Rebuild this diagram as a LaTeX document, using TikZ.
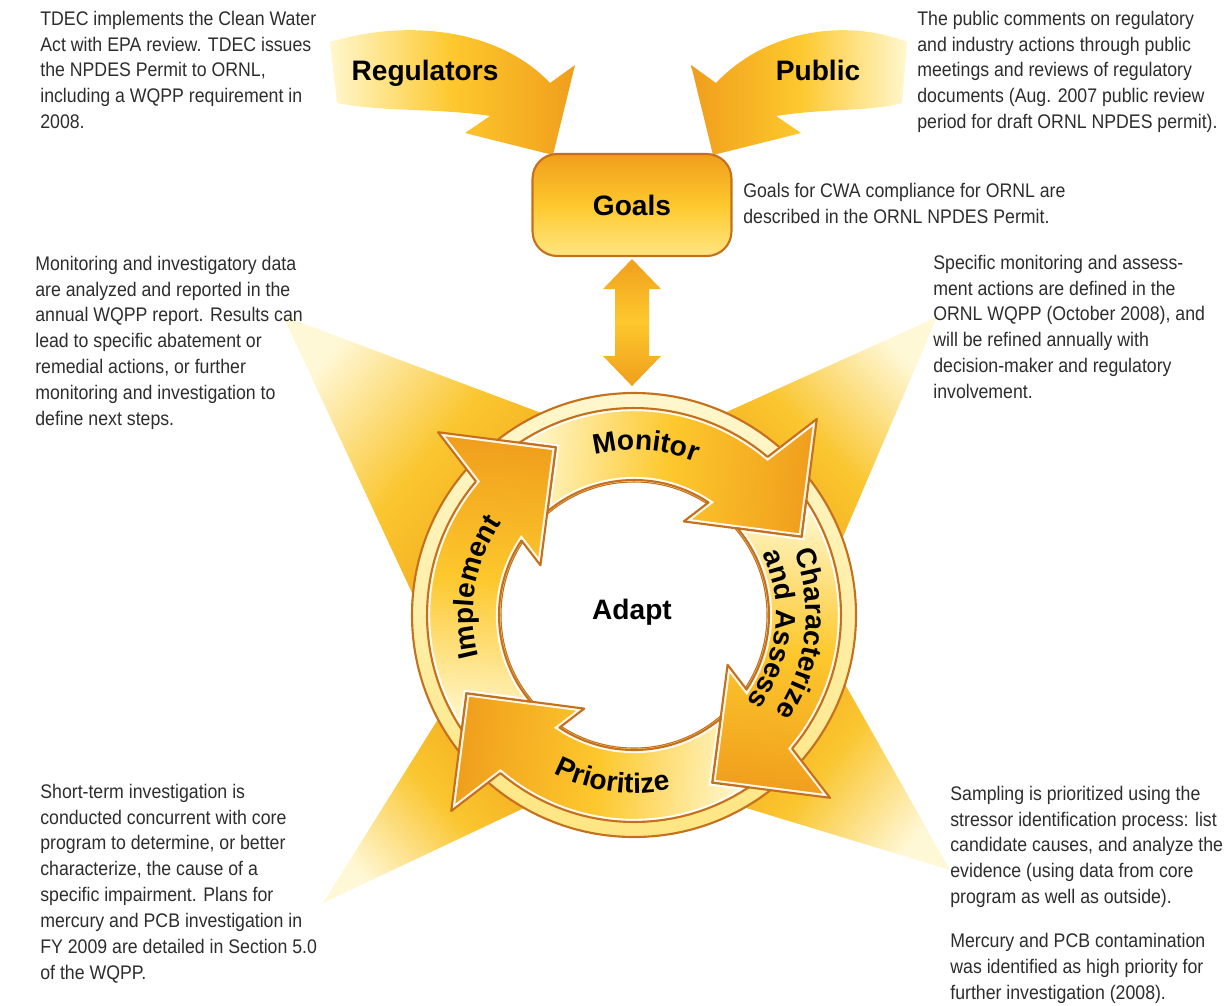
\documentclass[tikz,border=0pt]{standalone}
\usepackage{fontspec}
\setmainfont{Liberation Sans}
\newfontfamily\notefamily{Liberation Sans}[FakeStretch=0.9]
\usetikzlibrary{decorations.text}

\definecolor{cream}{RGB}{255,247,205}
\definecolor{pale}{RGB}{255,230,130}
\definecolor{gold}{RGB}{253,200,45}
\definecolor{amber}{RGB}{240,158,28}
\definecolor{rim}{RGB}{196,112,28}
\definecolor{raytip}{RGB}{255,248,215}
\definecolor{raymid}{RGB}{250,198,48}
\definecolor{raybase}{RGB}{243,165,25}
\definecolor{notegray}{RGB}{45,45,45}

\newcommand\notefont{\notefamily\fontsize{11.2}{14.75}\selectfont}
\newcommand\labfont{\bfseries\fontsize{16}{19}\selectfont}

% one curved arrow of the cycle, head at angle #1 (clockwise, px radii)
\newcommand\cyclearrow[1]{(#1-76.65:207) -- (#1-68:185) -- (#1-82.9:135)
  -- plot[domain=#1-82.9:#1-9.5,samples=30] (\x:135)
  -- (#1-15:106) -- (#1+22:185) -- (#1:268) -- (#1-2.8:207)
  -- plot[domain=#1-2.8:#1-76.65,samples=30] (\x:207) -- cycle}

\begin{document}
\begin{tikzpicture}[x=0.02cm,y=-0.02cm,
  note/.style={font=\notefont,text=notegray,align=left,anchor=north west,inner sep=0pt},
  lbl/.style={font=\labfont,text=black,inner sep=0pt},
  ray/.style={shading=axis,top color=raybase,bottom color=raytip,middle color=raymid},
  sweep/.style={shading=axis,bottom color=cream,top color=amber,middle color=gold},
  band/.style={shading=axis,top color=cream,bottom color=pale},
  twoway/.style={shading=axis,bottom color=amber,top color=amber,middle color=gold},
  goalbox/.style={lbl,draw=rim,line width=1.2pt,rounded corners=14pt,
                  minimum width=3.98cm,minimum height=2.04cm,
                  top color=amber,bottom color=pale,middle color=gold},
  rimline/.style={draw=rim,line width=1.2pt,line join=round},
  ringtext/.style={decorate,decoration={text along path,text align=center,text={|\labfont|#1}}}]

\useasboundingbox (0,0) rectangle (1229,1005);

% ---- rays behind the cycle ----
\shade[ray,shading angle=-130.5] (283,316) -- (560,420) -- (420,610) -- cycle;
\shade[ray,shading angle=134.5] (937,317) -- (700,424) -- (830,567) -- cycle;
\shade[ray,shading angle=-47.2] (323,903) -- (450,700) -- (560,791) -- cycle;
\shade[ray,shading angle=52] (950,870) -- (820,640) -- (720,800) -- cycle;

% ---- inputs to the goals ----
\shade[shading=axis,bottom color=cream,top color=amber,middle color=gold,shading angle=-90]
  (330,42) .. controls (410,18) and (500,30) .. (550,83) -- (575,65) -- (553,155)
  -- (465,133) -- (490,116) .. controls (440,108) and (380,112) .. (337,103) -- cycle;
\shade[shading=axis,bottom color=cream,top color=amber,middle color=gold,shading angle=90]
  (907,42) .. controls (846,18) and (766,30) .. (716,83) -- (691,65) -- (713,155)
  -- (801,133) -- (776,116) .. controls (826,108) and (870,112) .. (902,103) -- cycle;
\node[lbl,anchor=base] (regs) at (425,80) {Regulators};
\node[lbl,anchor=base] (pub) at (818,80) {Public};

\node[goalbox] (goals) at (632,205) {Goals};
\shade[twoway] (goals.south) ++(0,2) -- ++(29,30) -- ++(-12,0) -- ++(0,67) -- ++(12,0)
  -- ++(-29,30) -- ++(-29,-30) -- ++(12,0) -- ++(0,-67) -- ++(-12,0) -- cycle;

% ---- the cycle ----
\begin{scope}[shift={(634,615)}]
\coordinate (hub) at (0,0);
\shade[band] (hub) circle[radius=222];
\draw[rimline] (hub) circle[radius=222];
\fill[white] (hub) circle[radius=133];
\draw[rim,line width=0.6pt] (hub) circle[radius=133];

\foreach \h/\sa in {313/-95.5,43/174.5,133/84.5,223/-5.5}{
  \begin{scope}
    \clip \cyclearrow{\h};
    \shade[sweep,shading angle=\sa] \cyclearrow{\h};
    \draw[white,opacity=0.9,line width=3.6pt] \cyclearrow{\h};
  \end{scope}
  \draw[rimline] \cyclearrow{\h};
}

\path[ringtext=Monitor] plot[domain=240:308,samples=40] (\x:165);
\path[ringtext=Characterize] plot[domain=-31:44,samples=40] (\x:172);
\path[ringtext=and Assess] plot[domain=-30:42,samples=40] (\x:142);
\path[ringtext=Prioritize] plot[domain=125:70,samples=40] (\x:178);
\path[ringtext=Implement] plot[domain=160:220,samples=40] (\x:161);

\node[lbl] (adapt) at (-2,-3) {Adapt};
\end{scope}

% ---- notes ----
\node[note] (permitnote) at (40,10.5) {TDEC implements the Clean Water\\Act with EPA review. TDEC issues\\the NPDES Permit to ORNL,\\including a WQPP requirement in\\2008.};
\node[note] (publicnote) at (917,10.5) {The public comments on regulatory\\and industry actions through public\\meetings and reviews of regulatory\\documents (Aug. 2007 public review\\period for draft ORNL NPDES permit).};
\node[note] (goalnote) at (743,182.5) {Goals for CWA compliance for ORNL are\\described in the ORNL NPDES Permit.};
\node[note] (reportnote) at (35,255.5) {Monitoring and investigatory data\\are analyzed and reported in the\\annual WQPP report. Results can\\lead to specific abatement or\\remedial actions, or further\\monitoring and investigation to\\define next steps.};
\node[note] (plannote) at (933,254.5) {Specific monitoring and assess-\\ment actions are defined in the\\ORNL WQPP (October 2008), and\\will be refined annually with\\decision-maker and regulatory\\involvement.};
\node[note] (studynote) at (40,783.5) {Short-term investigation is\\conducted concurrent with core\\program to determine, or better\\characterize, the cause of a\\specific impairment. Plans for\\mercury and PCB investigation in\\FY 2009 are detailed in Section 5.0\\of the WQPP.};
\node[note] (samplenote) at (950,785.5) {Sampling is prioritized using the\\stressor identification process: list\\candidate causes, and analyze the\\evidence (using data from core\\program as well as outside).};
\node[note] (prioritynote) at (950,933) {Mercury and PCB contamination\\was identified as high priority for\\further investigation (2008).};
\end{tikzpicture}
\end{document}
